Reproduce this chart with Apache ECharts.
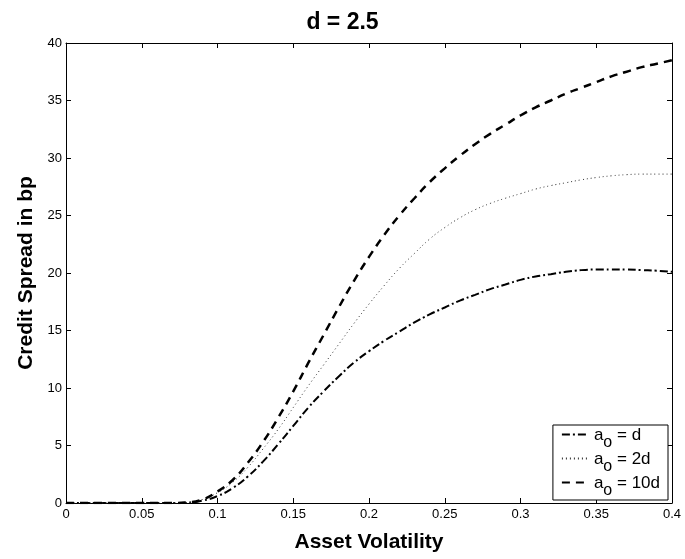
<!DOCTYPE html>
<html>
<head>
<meta charset="utf-8">
<script src="https://cdn.jsdelivr.net/npm/echarts@6/dist/echarts.min.js"></script>
<style>
  html, body { margin: 0; padding: 0; background: #fff; }
  #chart { width: 685px; height: 559px; }
</style>
</head>
<body>
<div id="chart"></div>
<script>
// Asset volatility grid (x) and credit spreads in basis points for three a_o levels
const volatility = [0, 0.01, 0.02, 0.03, 0.04, 0.05, 0.06, 0.07, 0.08, 0.09,
  0.10, 0.11, 0.12, 0.13, 0.14, 0.15, 0.16, 0.17, 0.18, 0.19,
  0.20, 0.21, 0.22, 0.23, 0.24, 0.25, 0.26, 0.27, 0.28, 0.29,
  0.30, 0.31, 0.32, 0.33, 0.34, 0.35, 0.36, 0.37, 0.38, 0.39, 0.40];

const spreadD = [0, 0, 0, 0, 0, 0, 0, 0, 0.03, 0.2,
  0.6, 1.3, 2.3, 3.6, 5.1, 6.7, 8.3, 9.7, 11.0, 12.2,
  13.2, 14.1, 14.9, 15.7, 16.4, 17.0, 17.6, 18.1, 18.6, 19.0,
  19.4, 19.7, 19.9, 20.1, 20.25, 20.3, 20.3, 20.3, 20.25, 20.2, 20.1];

const spread2D = [0, 0, 0, 0, 0, 0, 0, 0, 0.05, 0.3,
  0.9, 1.8, 3.1, 4.7, 6.4, 8.3, 10.2, 12.0, 13.8, 15.6,
  17.3, 18.9, 20.4, 21.7, 22.95, 23.95, 24.8, 25.5, 26.05, 26.5,
  26.9, 27.3, 27.6, 27.85, 28.1, 28.3, 28.45, 28.55, 28.6, 28.6, 28.6];

const spread10D = [0, 0, 0, 0, 0, 0, 0, 0, 0.05, 0.3,
  1.0, 2.0, 3.5, 5.3, 7.4, 9.7, 12.2, 14.6, 17.0, 19.3,
  21.4, 23.3, 25.0, 26.5, 27.9, 29.1, 30.2, 31.2, 32.1, 32.9,
  33.7, 34.4, 35.0, 35.6, 36.1, 36.6, 37.1, 37.5, 37.9, 38.2, 38.5];

const seriesNames = ['a_o = d', 'a_o = 2d', 'a_o = 10d'];
const legendSuffix = [' = d', ' = 2d', ' = 10d'];

const xTicks = { min: 0, max: 0.4, interval: 0.05 };
const yTicks = { min: 0, max: 40, interval: 5 };

function pairs(ys) {
  return volatility.map((x, i) => [x, ys[i]]);
}

const FONT = '"Liberation Sans", Arial, Helvetica, sans-serif';

const chart = echarts.init(document.getElementById('chart'), null, { renderer: 'canvas' });

const frameAxisLine = { show: true, onZero: false, lineStyle: { color: '#000', width: 1 } };
const innerTick = { show: true, inside: true, length: 5, lineStyle: { color: '#000', width: 1 } };

chart.setOption({
  animation: false,
  backgroundColor: '#fff',
  title: {
    text: 'd = 2.5',
    left: 'center',
    top: 6,
    textStyle: { fontFamily: FONT, fontWeight: 'bold', fontSize: 23, color: '#000' }
  },
  grid: { left: 66, right: 13, top: 43, bottom: 56, containLabel: false },
  xAxis: [
    {
      type: 'value', position: 'bottom',
      min: xTicks.min, max: xTicks.max, interval: xTicks.interval,
      name: 'Asset Volatility', nameLocation: 'middle', nameGap: 29,
      nameTextStyle: { fontFamily: FONT, fontWeight: 'bold', fontSize: 21, color: '#000' },
      axisLine: frameAxisLine, axisTick: innerTick,
      axisLabel: {
        margin: 5, fontFamily: FONT, fontSize: 13, color: '#000',
        formatter: v => String(+v.toFixed(2))
      },
      splitLine: { show: false }
    },
    {
      type: 'value', position: 'top',
      min: xTicks.min, max: xTicks.max, interval: xTicks.interval,
      axisLine: frameAxisLine, axisTick: innerTick,
      axisLabel: { show: false }, splitLine: { show: false }
    }
  ],
  yAxis: [
    {
      type: 'value', position: 'left',
      min: yTicks.min, max: yTicks.max, interval: yTicks.interval,
      name: 'Credit Spread in bp', nameLocation: 'middle', nameGap: 28,
      nameTextStyle: { fontFamily: FONT, fontWeight: 'bold', fontSize: 21, color: '#000' },
      axisLine: frameAxisLine, axisTick: innerTick,
      axisLabel: { margin: 4, fontFamily: FONT, fontSize: 13, color: '#000' },
      splitLine: { show: false }
    },
    {
      type: 'value', position: 'right',
      min: yTicks.min, max: yTicks.max, interval: yTicks.interval,
      axisLine: frameAxisLine, axisTick: innerTick,
      axisLabel: { show: false }, splitLine: { show: false }
    }
  ],
  legend: {
    orient: 'vertical',
    right: 17,
    top: 425,
    padding: [2, 8, 1, 8],
    itemGap: 0,
    itemWidth: 27,
    itemHeight: 14,
    backgroundColor: '#fff',
    borderColor: '#000',
    borderWidth: 1,
    borderRadius: 0,
    itemStyle: { opacity: 0 },
    data: seriesNames,
    formatter: name => {
      const i = seriesNames.indexOf(name);
      return '{m|a}{s|o}{m|' + legendSuffix[i] + '}';
    },
    textStyle: {
      fontFamily: FONT, color: '#000',
      rich: {
        m: { fontFamily: FONT, fontSize: 17, color: '#000', lineHeight: 15, verticalAlign: 'top' },
        s: { fontFamily: FONT, fontSize: 16, color: '#000', lineHeight: 15, verticalAlign: 'top', padding: [8, 0, 0, 0] }
      }
    }
  },
  series: [
    {
      name: seriesNames[0], type: 'line', smooth: true, showSymbol: false, symbol: 'none',
      data: pairs(spreadD),
      lineStyle: { color: '#000', width: 2, type: [8, 3, 2, 3] },
      itemStyle: { color: '#000' }
    },
    {
      name: seriesNames[1], type: 'line', smooth: true, showSymbol: false, symbol: 'none',
      data: pairs(spread2D),
      lineStyle: { color: '#333', width: 1, type: [1, 3] },
      itemStyle: { color: '#333' }
    },
    {
      name: seriesNames[2], type: 'line', smooth: true, showSymbol: false, symbol: 'none',
      data: pairs(spread10D),
      lineStyle: { color: '#000', width: 2.5, type: [8, 6] },
      itemStyle: { color: '#000' }
    }
  ]
});
</script>
</body>
</html>
